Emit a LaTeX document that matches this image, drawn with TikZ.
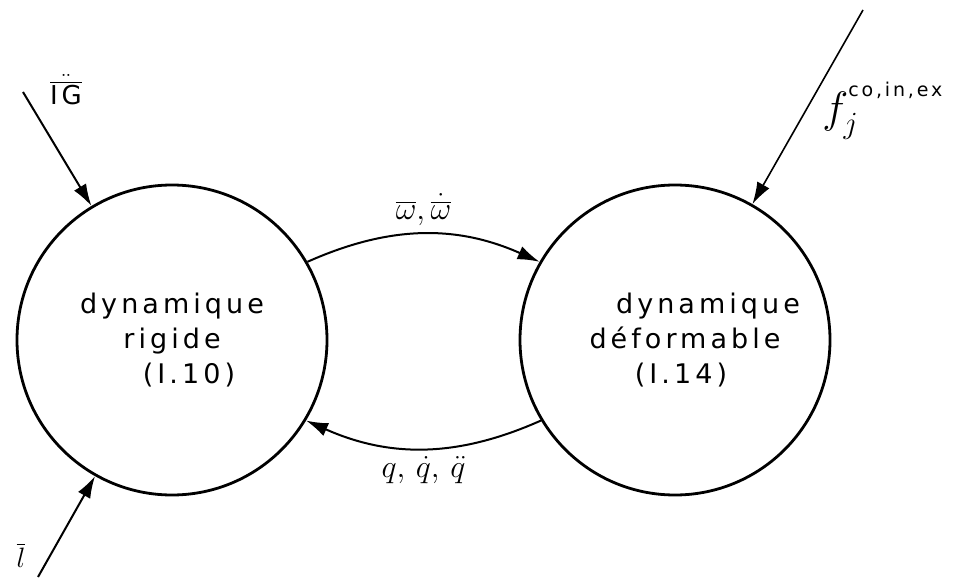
\RequirePackage{fix-cm}
\documentclass[tikz,border=0pt]{standalone}
\usepackage{amsmath}
\usepackage{fontspec}
\setmainfont[LetterSpace=15]{DejaVu Sans}
\usetikzlibrary{positioning,arrows.meta}

\begin{document}
\begin{tikzpicture}[x=1pt,y=1pt,->,>={Latex[length=22pt,width=14pt]},line width=2pt,auto,node
  distance=503pt,main/.style={circle,draw,line width=2.8pt,minimum size=310pt,inner sep=0pt,
  align=center,font=\fontsize{27}{35}\selectfont}]
  \useasboundingbox (0,0) rectangle (957,579);
  \node[main] (R) at (172,239) {dynamique\\rigide\hspace*{24pt}\\\hspace*{34pt}(I.10)};
  \node[main] (D) [right of=R] {\hspace*{66pt}dynamique\\\hspace*{20pt}déformable\\\hspace*{12pt}(I.14)};
  \coordinate (igin) at (23,487);
  \coordinate (lin) at (38,2);
  \coordinate (fin) at (863,569);
  \node[font=\fontsize{26}{26}\selectfont] (iglabel) at (66,489) {$\ddot{\overline{\text{IG}}}$};
  \node[font=\fontsize{28}{28}\selectfont] (llabel) at (21,24) {$\overline{l}$};
  \node[font=\fontsize{44}{44}\selectfont,anchor=west] (flabel) at (818,468)
    {$f_j^{\raisebox{10pt}{\fontsize{19}{19}\selectfont co,in,ex}}$};
  \path[every node/.style={font=\fontsize{32}{32}\selectfont,inner sep=7pt}]
     (R.30) edge [bend left=24] node {$\overline{\omega},\dot{\overline{\omega}}$} (D.150)
     (D.211) edge [bend left=24] node {$q,\,\dot{q},\,\ddot{q}$} (R.-31)
     (igin) edge (R)
     (lin) edge (R)
     (fin) edge [line width=1.6pt] (D);
\end{tikzpicture}
\end{document}
